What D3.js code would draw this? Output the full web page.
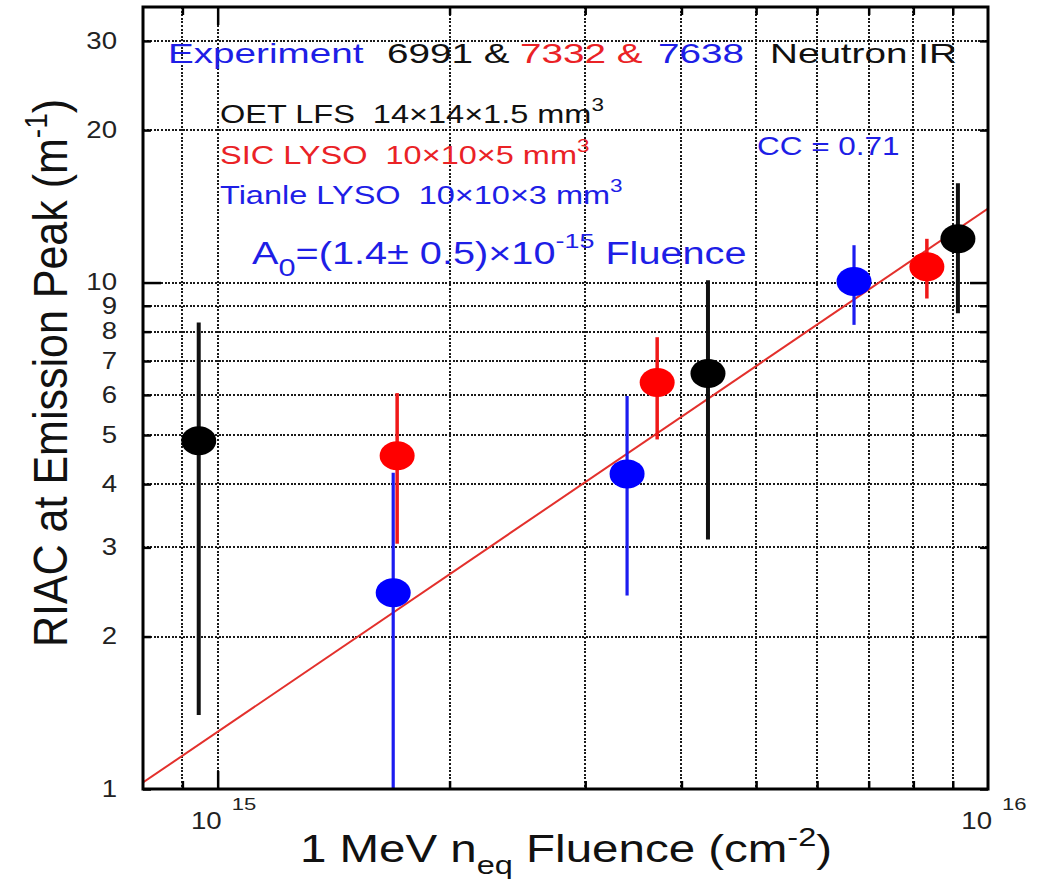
<!DOCTYPE html>
<html>
<head>
<meta charset="utf-8">
<script src="https://cdn.jsdelivr.net/npm/d3@7"></script>
<style>
body { margin: 0; background: #fff; }
text { font-family: "Liberation Sans", Arial, Helvetica, sans-serif; }
</style>
</head>
<body>
<svg id="chart" width="1042" height="882"></svg>
<script>
// 1 MeV n_eq fluence (cm^-2) and RIAC at emission peak (m^-1), symmetric errors
var oetFluence = [9.45e14, 4.33e15, 9.14e15];
var oetRiac = [4.87, 6.61, 12.2];
var oetErr = [3.47, 3.5, 3.5];

var sicFluence = [1.71e15, 3.72e15, 8.33e15];
var sicRiac = [4.55, 6.35, 10.75];
var sicErr = [1.5, 1.45, 1.45];

var tianleFluence = [1.69e15, 3.40e15, 6.70e15];
var tianleRiac = [2.44, 4.19, 10.05];
var tianleErr = [1.77, 1.78, 1.8];

// fit A = A0 * Fluence, read at the frame edges
var fitFluence = [8e14, 1e16];
var fitRiac = [1.03, 14.0];

var xGrid = [9e14, 1e15, 2e15, 3e15, 4e15, 5e15, 6e15, 7e15, 8e15, 9e15];
var xLabels = [1e15, 1e16];
var yTicks = [1, 2, 3, 4, 5, 6, 7, 8, 9, 10, 20, 30];

// window.top is read-only, so the frame edges get their own names
var pLeft = 143, pRight = 988, pTop = 7, pBottom = 789;

var svg = d3.select('#chart');
svg.append('rect').attr('width', 1042).attr('height', 882).attr('fill', '#fff');

var x = d3.scaleLog().domain([8e14, 1e16]).range([pLeft, pRight]);
var y = d3.scaleLog().domain([1, 35]).range([pBottom, pTop]);

svg.append('clipPath').attr('id', 'plotclip')
  .append('rect').attr('x', pLeft).attr('y', pTop).attr('width', pRight - pLeft).attr('height', pBottom - pTop);

//dotted grid
var grid = svg.append('g').attr('stroke', '#1a1a1a').attr('stroke-width', 2)
  .attr('stroke-dasharray', '2,1.6').attr('shape-rendering', 'crispEdges');
grid.selectAll('line.vx').data(xGrid).enter().append('line')
  .attr('x1', function(d){ return x(d); }).attr('x2', function(d){ return x(d); })
  .attr('y1', pTop).attr('y2', pBottom);
grid.selectAll('line.hy').data(yTicks.slice(1)).enter().append('line')
  .attr('y1', function(d){ return y(d); }).attr('y2', function(d){ return y(d); })
  .attr('x1', pLeft).attr('x2', pRight);

//axes, ticks pointing inward
function tickLen(d){ return (d === 10 || d === 1e15) ? -18 : -8; }

var yAxis = svg.append('g').attr('transform', 'translate(' + pLeft + ',0)')
  .call(d3.axisLeft(y).tickValues(yTicks).tickFormat(d3.format('d')).tickSizeOuter(0).tickSizeInner(-8).tickPadding(0));
yAxis.select('.domain').remove();
yAxis.selectAll('.tick line').attr('x2', function(d){ return -tickLen(d); }).attr('stroke-width', 2.5);
yAxis.selectAll('.tick text')
  .attr('font-size', 23).attr('fill', '#222')
  .attr('transform', 'scale(1.2,1)').attr('x', -26 / 1.2);
yAxis.attr('font-family', null);

var yAxisR = svg.append('g').attr('transform', 'translate(' + pRight + ',0)')
  .call(d3.axisRight(y).tickValues(yTicks).tickFormat('').tickSizeOuter(0).tickSizeInner(-8));
yAxisR.select('.domain').remove();
yAxisR.selectAll('.tick line').attr('x2', function(d){ return tickLen(d); }).attr('stroke-width', 2.5);

var xAxis = svg.append('g').attr('transform', 'translate(0,' + pBottom + ')')
  .call(d3.axisBottom(x).tickValues(xGrid).tickFormat('').tickSizeOuter(0).tickSizeInner(-8));
xAxis.select('.domain').remove();
xAxis.selectAll('.tick line').attr('y2', function(d){ return tickLen(d); }).attr('stroke-width', 2.5);

var xAxisT = svg.append('g').attr('transform', 'translate(0,' + pTop + ')')
  .call(d3.axisTop(x).tickValues(xGrid).tickFormat('').tickSizeOuter(0).tickSizeInner(-8));
xAxisT.select('.domain').remove();
xAxisT.selectAll('.tick line').attr('y2', function(d){ return -tickLen(d); }).attr('stroke-width', 2.5);

//10^15, 10^16 labels
var xl = svg.append('g').selectAll('g').data(xLabels).enter().append('g')
  .attr('transform', function(d){ return 'translate(' + x(d) + ',0)'; });
xl.append('text').attr('x', 4 / 1.15).attr('y', 829).attr('text-anchor', 'end')
  .attr('font-size', 24).attr('fill', '#222').attr('transform', 'scale(1.15,1)').text('10');
xl.append('text').attr('x', 14 / 1.3).attr('y', 810)
  .attr('font-size', 17).attr('fill', '#222').attr('transform', 'scale(1.3,1)')
  .text(function(d){ return Math.round(Math.log10(d)); });

var plot = svg.append('g').attr('clip-path', 'url(#plotclip)');

//fit line
var line = d3.line().x(function(d){ return x(d[0]); }).y(function(d){ return y(d[1]); });
plot.append('path').datum(d3.zip(fitFluence, fitRiac))
  .attr('d', line).attr('fill', 'none').attr('stroke', '#e3302c').attr('stroke-width', 2);

var series = [
  { f: oetFluence, v: oetRiac, e: oetErr, color: '#000000', bar: '#111111', w: 4 },
  { f: sicFluence, v: sicRiac, e: sicErr, color: '#ff0000', bar: '#f01818', w: 3.5 },
  { f: tianleFluence, v: tianleRiac, e: tianleErr, color: '#0000ff', bar: '#1c1cf0', w: 3.2 }
];

series.forEach(function(s){
  var pts = d3.range(s.f.length).map(function(i){ return { f: s.f[i], v: s.v[i], e: s.e[i] }; });
  plot.append('g').selectAll('line').data(pts).enter().append('line')
    .attr('x1', function(d){ return x(d.f); }).attr('x2', function(d){ return x(d.f); })
    .attr('y1', function(d){ return y(Math.max(d.v - d.e, 0.5)); })
    .attr('y2', function(d){ return y(d.v + d.e); })
    .attr('stroke', s.bar).attr('stroke-width', s.w);
  s.pts = pts;
});
series.forEach(function(s){
  plot.append('g').selectAll('ellipse').data(s.pts).enter().append('ellipse')
    .attr('cx', function(d){ return x(d.f); }).attr('cy', function(d){ return y(d.v); })
    .attr('rx', 17.5).attr('ry', 14.5).attr('fill', s.color);
});

//frame
svg.append('rect').attr('x', pLeft).attr('y', pTop).attr('width', pRight - pLeft).attr('height', pBottom - pTop)
  .attr('fill', 'none').attr('stroke', '#000').attr('stroke-width', 3);

//text helpers
function label(px, py, size, sx, color){
  return svg.append('text')
    .attr('transform', 'translate(' + px + ',' + py + ') scale(' + sx + ',1)')
    .attr('font-size', size).attr('fill', color);
}

var blue = '#1e1ee6', red = '#ea2226', black = '#111';

label(168, 63, 28, 1.38, blue).text('Experiment');
label(387, 63, 28, 1.38, black).text('6991 &');
label(520, 63, 28, 1.38, red).text('7332 &');
label(658, 63, 28, 1.38, blue).text('7638');
label(770, 63, 28, 1.38, black).text('Neutron IR');

function legendLine(py, color, name, dims){
  var t = label(220, py, 26, 1.25, color);
  t.append('tspan').text(name + '\u00a0\u00a0' + dims + ' mm');
  t.append('tspan').attr('font-size', 18).attr('dy', -12).text('3');
}
legendLine(123, black, 'OET LFS', '14\u00d714\u00d71.5');
legendLine(164, red, 'SIC LYSO', '10\u00d710\u00d75');
legendLine(204, blue, 'Tianle LYSO', '10\u00d710\u00d73');

var a0 = label(252, 264, 31, 1.28, blue);
a0.append('tspan').text('A');
a0.append('tspan').attr('font-size', 24).attr('dy', 12).text('0');
a0.append('tspan').attr('dy', -12).text('=(1.4\u00b1 0.5)\u00d710');
a0.append('tspan').attr('font-size', 21).attr('dy', -16).text('-15');
a0.append('tspan').attr('dy', 16).text(' Fluence');

label(757, 155, 25, 1.26, blue).text('CC = 0.71');

//axis titles
var xt = label(566, 862, 38, 1.25, '#111').attr('text-anchor', 'middle');
xt.append('tspan').text('1 MeV n');
xt.append('tspan').attr('font-size', 26).attr('dy', 12).text('eq');
xt.append('tspan').attr('dy', -12).text(' Fluence (cm');
xt.append('tspan').attr('font-size', 26).attr('dy', -16).text('-2');
xt.append('tspan').attr('dy', 16).text(')');

var yt = svg.append('text')
  .attr('transform', 'translate(67,373) scale(1.13,1) rotate(-90)')
  .attr('text-anchor', 'middle').attr('font-size', 43).attr('fill', '#111');
yt.append('tspan').text('RIAC at Emission Peak (m');
yt.append('tspan').attr('font-size', 28).attr('dy', -18).text('-1');
yt.append('tspan').attr('dy', 18).text(')');
</script>
</body>
</html>
